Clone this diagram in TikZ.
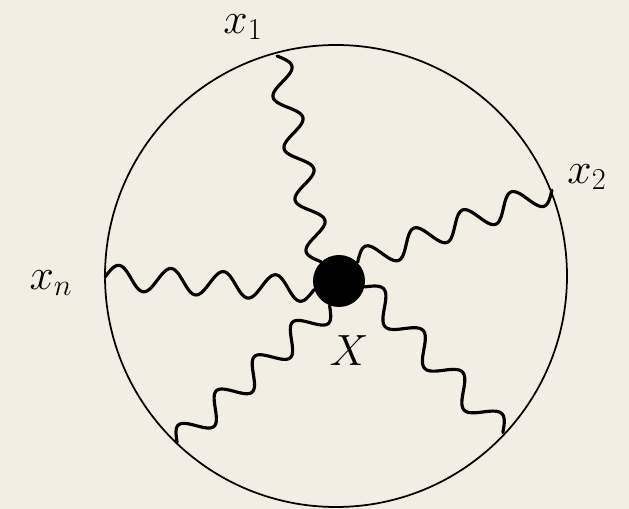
\documentclass[tikz,border=0pt]{standalone}
\usetikzlibrary{calc}
\definecolor{paper}{RGB}{243,238,227}
\tikzset{
  wave/.style={line width=1.8pt, line cap=round},
  lbl/.style={inner sep=0pt, font=\fontsize{26}{30}\selectfont}
}
\newcommand\wavyline[3]{%
  \draw[wave] let \p1=(#1), \p2=(#2),
    \n1={atan2(\y2-\y1,\x2-\x1)},
    \n2={veclen(\x2-\x1,\y2-\y1)},
    \n3={max(1,round(\n2/15.3pt))} in
    [shift={(\p1)}, rotate=\n1]
    plot[variable=\t, domain=0:1, samples=160, smooth] ({\t*\n2},{#3*7.1pt*sin(180*\t*\n3)});}
\begin{document}
\begin{tikzpicture}[x=0.02cm,y=-0.02cm]
  \fill[paper] (0,0) rectangle (629,509);
  \useasboundingbox (0,0) rectangle (629,509);
  \node[draw, line width=1pt, circle, minimum size=462*0.02cm, inner sep=0pt] (C) at (336,276) {};
  \node[circle, fill=black, minimum size=52*0.02cm, inner sep=0pt] (X) at (339,281) {};
  \coordinate (p1) at (277,56);
  \coordinate (p2) at (552,190);
  \coordinate (pn) at (105,277);
  \coordinate (p3) at (177,443);
  \coordinate (p4) at (503,433);
  \wavyline{X.133}{p1}{1}
  \wavyline{X.45}{p2}{1}
  \wavyline{X.199}{pn}{1}
  \wavyline{X.249}{p3}{1}
  \wavyline{X.347}{p4}{1}
  \node[lbl] (l1) at (243,27) {$x_1$};
  \node[lbl] (l2) at (587,177) {$x_2$};
  \node[lbl] (ln) at (51,283) {$x_n$};
  \node[lbl] (lX) at (349,351) {$X$};
\end{tikzpicture}
\end{document}
